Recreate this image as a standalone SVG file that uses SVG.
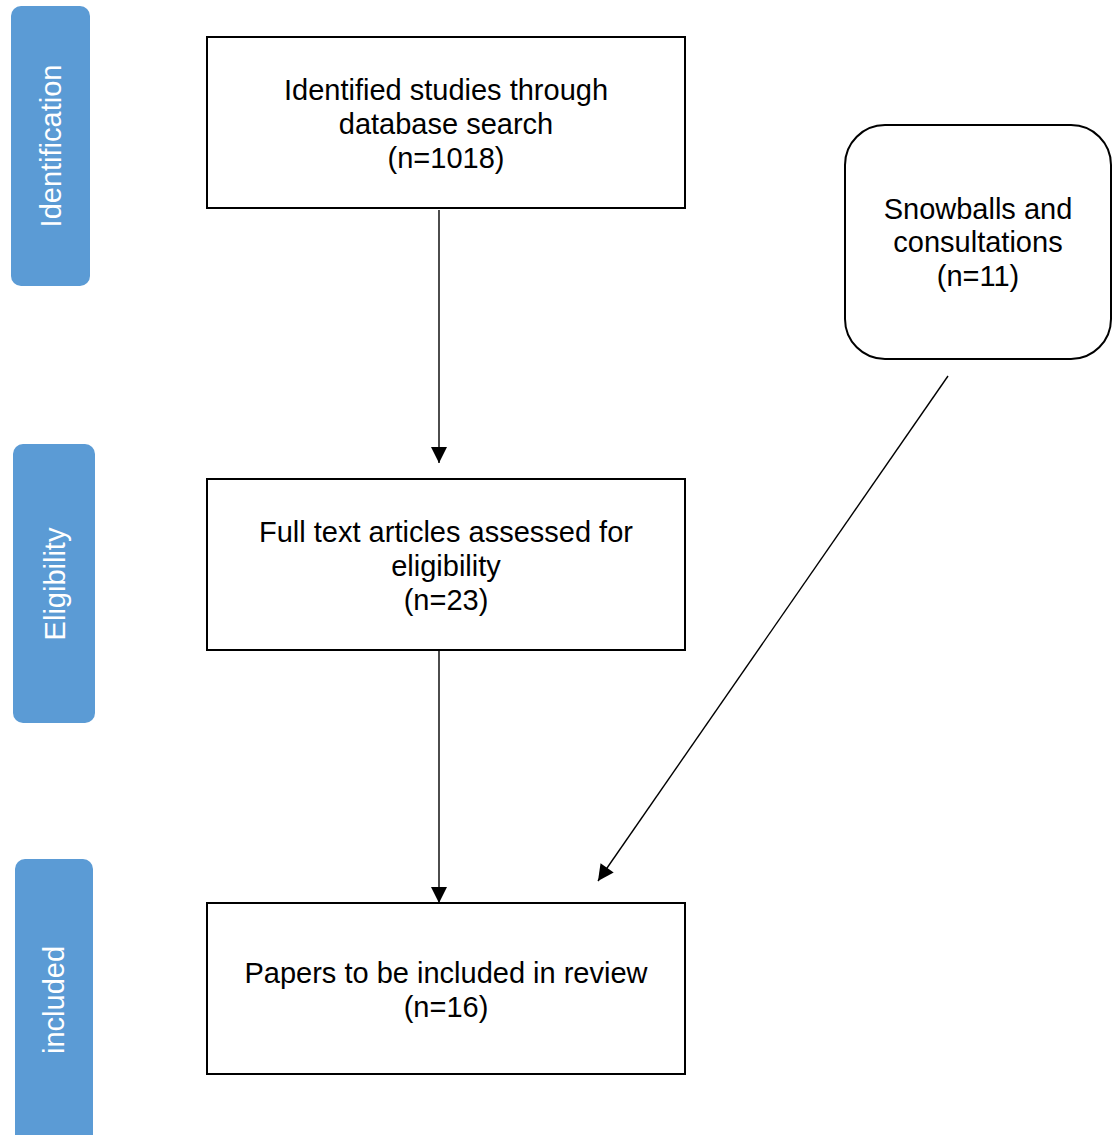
<svg xmlns="http://www.w3.org/2000/svg" width="1113" height="1135" viewBox="0 0 1113 1135">
<style>
.side{fill:#5B9BD5;}
.sidet{fill:#fff;font-family:"Liberation Sans",Arial,sans-serif;font-size:29px;text-anchor:middle;dominant-baseline:central;}
.box{fill:#fff;stroke:#000;stroke-width:2;}
.t{font-family:"Liberation Sans",Arial,sans-serif;font-size:29px;text-anchor:middle;fill:#000;}
.conn{stroke:#000;stroke-width:1.4;fill:none;marker-end:url(#ah);}
</style>
<defs>
<marker id="ah" viewBox="0 0 10 10" refX="10" refY="5" markerWidth="17" markerHeight="16" markerUnits="userSpaceOnUse" orient="auto">
<path d="M0,0 L10,5 L0,10 z" fill="#000"/>
</marker>
</defs>
<g id="stage-identification">
<rect class="side" x="11" y="6" width="79" height="280" rx="10"/>
<text class="sidet" transform="translate(51,146) rotate(-90)">Identification</text>
</g>
<g id="stage-eligibility">
<rect class="side" x="13" y="444" width="82" height="279" rx="10"/>
<text class="sidet" transform="translate(55,584) rotate(-90)">Eligibility</text>
</g>
<g id="stage-included">
<rect class="side" x="15" y="859" width="78" height="290" rx="10"/>
<text class="sidet" transform="translate(54,1000) rotate(-90)">included</text>
</g>
<g id="n1">
<rect class="box" x="207" y="37" width="478" height="171"/>
<text class="t" x="446" y="100">Identified studies through</text>
<text class="t" x="446" y="134">database search</text>
<text class="t" x="446" y="168">(n=1018)</text>
</g>
<g id="n2">
<rect class="box" x="207" y="479" width="478" height="171"/>
<text class="t" x="446" y="542">Full text articles assessed for</text>
<text class="t" x="446" y="576">eligibility</text>
<text class="t" x="446" y="610">(n=23)</text>
</g>
<g id="n3">
<rect class="box" x="207" y="903" width="478" height="171"/>
<text class="t" x="446" y="983">Papers to be included in review</text>
<text class="t" x="446" y="1017">(n=16)</text>
</g>
<g id="n4">
<rect class="box" x="845" y="125" width="266" height="234" rx="40"/>
<text class="t" x="978" y="219">Snowballs and</text>
<text class="t" x="978" y="252">consultations</text>
<text class="t" x="978" y="286">(n=11)</text>
</g>
<g id="connectors">
<line class="conn" x1="439" y1="210" x2="439" y2="463"/>
<line class="conn" x1="439" y1="651" x2="439" y2="903"/>
<line class="conn" x1="948" y1="376" x2="598" y2="881"/>
</g>
</svg>
